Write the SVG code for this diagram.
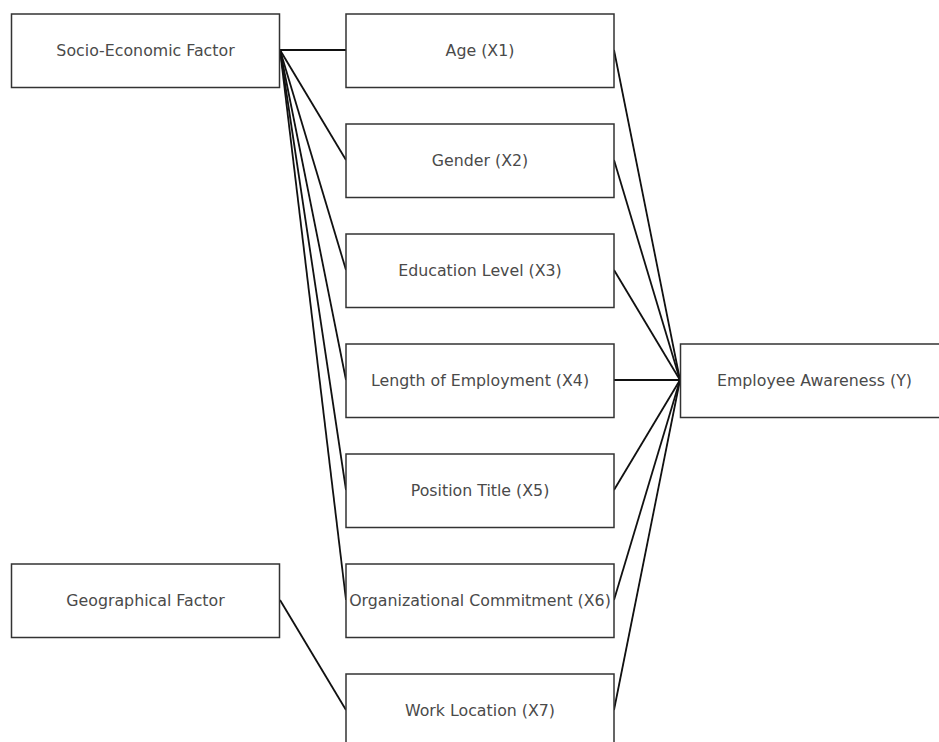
<svg xmlns="http://www.w3.org/2000/svg" width="939" height="742" viewBox="0 0 939 742">
<style>
.box{fill:#fff;stroke:#333;stroke-width:1.5}
.lbl{font-family:"DejaVu Sans",sans-serif;font-size:15.8px;fill:#4a4a4a;text-anchor:middle;dominant-baseline:central}
.edge{stroke:#111;stroke-width:1.8;fill:none}
</style>
<rect width="939" height="742" fill="#fff"/>
<g id="connectors">
<line class="edge" x1="280" y1="50" x2="346" y2="50"/>
<line class="edge" x1="280" y1="50" x2="346" y2="160"/>
<line class="edge" x1="280" y1="50" x2="346" y2="270"/>
<line class="edge" x1="280" y1="50" x2="346" y2="380"/>
<line class="edge" x1="280" y1="50" x2="346" y2="490"/>
<line class="edge" x1="280" y1="50" x2="346" y2="600"/>
<line class="edge" x1="280" y1="600" x2="346" y2="710"/>
<line class="edge" x1="614" y1="50" x2="680" y2="380"/>
<line class="edge" x1="614" y1="160" x2="680" y2="380"/>
<line class="edge" x1="614" y1="270" x2="680" y2="380"/>
<line class="edge" x1="614" y1="380" x2="680" y2="380"/>
<line class="edge" x1="614" y1="490" x2="680" y2="380"/>
<line class="edge" x1="614" y1="600" x2="680" y2="380"/>
<line class="edge" x1="614" y1="710" x2="680" y2="380"/>
</g>
<g id="socio"><rect class="box" x="11.5" y="14" width="268" height="73.5"/><text class="lbl" x="145.5" y="50">Socio-Economic Factor</text></g>
<g id="geo"><rect class="box" x="11.5" y="564" width="268" height="73.5"/><text class="lbl" x="145.5" y="600">Geographical Factor</text></g>
<g id="x1"><rect class="box" x="346" y="14" width="268" height="73.5"/><text class="lbl" x="480" y="50">Age (X1)</text></g>
<g id="x2"><rect class="box" x="346" y="124" width="268" height="73.5"/><text class="lbl" x="480" y="160">Gender (X2)</text></g>
<g id="x3"><rect class="box" x="346" y="234" width="268" height="73.5"/><text class="lbl" x="480" y="270">Education Level (X3)</text></g>
<g id="x4"><rect class="box" x="346" y="344" width="268" height="73.5"/><text class="lbl" x="480" y="380">Length of Employment (X4)</text></g>
<g id="x5"><rect class="box" x="346" y="454" width="268" height="73.5"/><text class="lbl" x="480" y="490">Position Title (X5)</text></g>
<g id="x6"><rect class="box" x="346" y="564" width="268" height="73.5"/><text class="lbl" x="480" y="600">Organizational Commitment (X6)</text></g>
<g id="x7"><rect class="box" x="346" y="674" width="268" height="73.5"/><text class="lbl" x="480" y="710">Work Location (X7)</text></g>
<g id="y"><rect class="box" x="680.5" y="344" width="268" height="73.5"/><text class="lbl" x="814.5" y="380">Employee Awareness (Y)</text></g>
</svg>
